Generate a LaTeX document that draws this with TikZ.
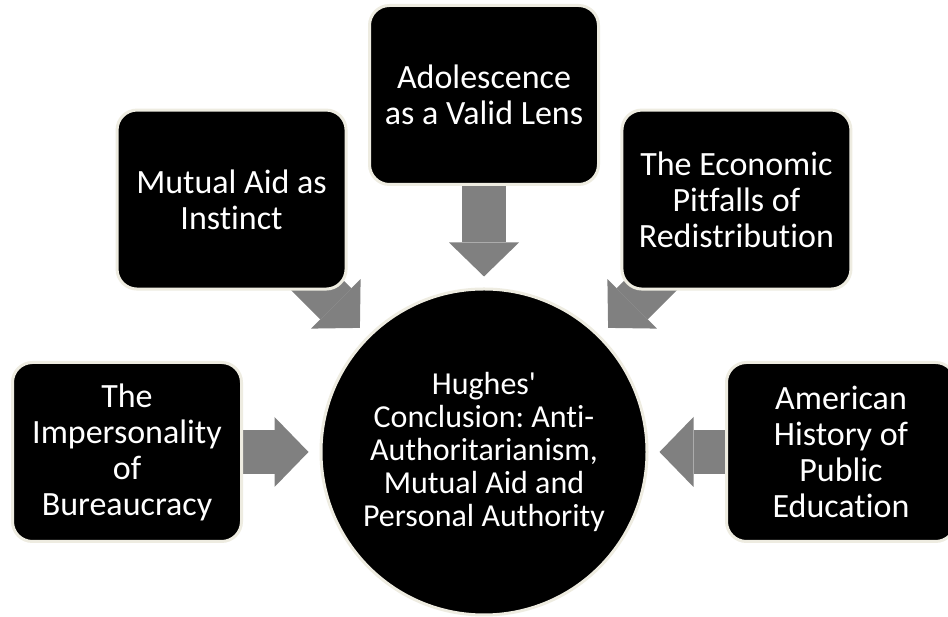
\documentclass[tikz,border=0pt]{standalone}
\usepackage{fontspec}
\setmainfont{Carlito}[Ligatures={TeXOff,NoCommon}]
\frenchspacing
\usetikzlibrary{arrows.meta,backgrounds}
\definecolor{rim}{HTML}{EEECE1}
\definecolor{flowgray}{HTML}{808080}
\tikzset{
  topic/.style={draw=rim, line width=3pt, fill=black, text=white, rounded corners=20pt,
    minimum width=229pt, minimum height=179pt, align=center,
    font=\fontsize{34}{36}\selectfont},
  hub/.style={circle, draw=rim, line width=3pt, fill=black, text=white,
    minimum size=326pt, inner sep=0pt, align=center,
    font=\fontsize{32}{33}\selectfont},
  flow/.style={draw=flowgray, line width=44pt, shorten >=11pt,
    -{Triangle[width=70pt,length=34pt,line width=0pt]}}
}

\begin{document}
\begin{tikzpicture}[x=1pt,y=1pt]
\useasboundingbox (0,0) rectangle (948,617);
\begin{scope}[on background layer]
  \fill[white] (0,0) rectangle (948,617);
\end{scope}

\node[hub] (hub) at (484,165) {Hughes'\\Conclusion: Anti-\\Authoritarianism,\\Mutual Aid and\\Personal Authority};

% topics round the hub, arrows pushed behind them
\foreach \ang/\name/\txt in {
    180/bureaucracy/{The\\Impersonality\\of\\Bureaucracy},
    135/mutualaid/{Mutual Aid as\\Instinct},
    90/adolescence/{Adolescence\\as a Valid Lens},
    45/economics/{The Economic\\Pitfalls of\\Redistribution},
    0/education/{American\\History of\\Public\\Education}}
{
  \path (hub.center) ++(\ang:357) node[topic] (\name) {\txt};
  \begin{scope}[on background layer]
    \draw[flow] (\name.center) -- (hub);
  \end{scope}
}
\end{tikzpicture}
\end{document}
